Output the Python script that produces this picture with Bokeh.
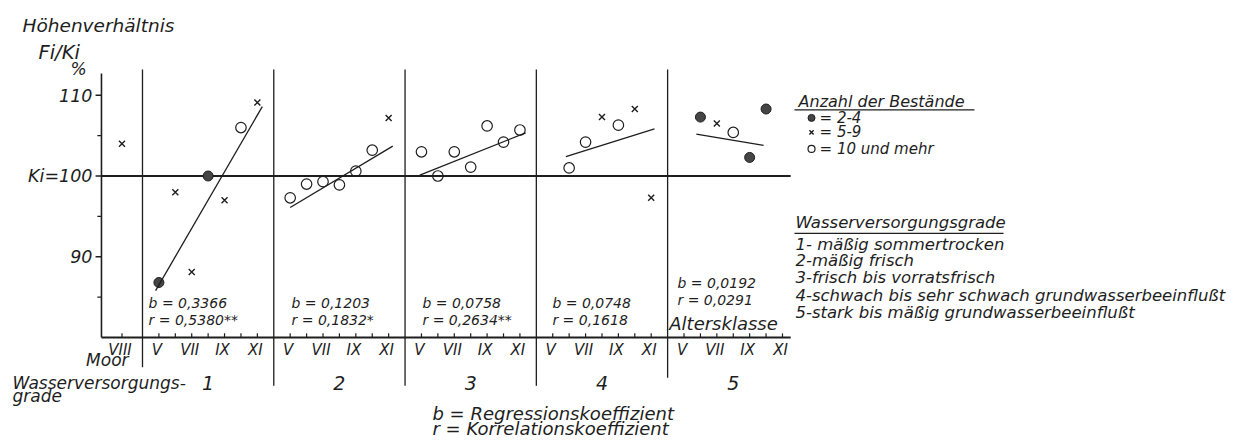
from bokeh.plotting import figure
from bokeh.models import Range1d
from bokeh.embed import file_html
from bokeh.resources import INLINE
from bokeh.core.properties import value

# ---------------- data ----------------
roman = {5: "V", 6: "VI", 7: "VII", 8: "VIII", 9: "IX", 10: "X", 11: "XI"}
age_classes = [5, 6, 7, 8, 9, 10, 11]
labelled_ages = [5, 7, 9, 11]
grades = [1, 2, 3, 4, 5]

moor_age = [8]
moor_val = [104.0]
moor_kind = ["x"]

g1_age = [5, 6, 7, 8, 9, 10, 11]
g1_val = [86.8, 98.0, 88.1, 100.0, 97.0, 106.0, 109.1]
g1_kind = ["dot", "x", "x", "dot", "x", "o", "x"]

g2_age = [5, 6, 7, 8, 9, 10, 11]
g2_val = [97.3, 99.0, 99.3, 98.9, 100.6, 103.2, 107.2]
g2_kind = ["o", "o", "o", "o", "o", "o", "x"]

g3_age = [5, 6, 7, 8, 9, 10, 11]
g3_val = [103.0, 100.0, 103.0, 101.1, 106.2, 104.2, 105.7]
g3_kind = ["o", "o", "o", "o", "o", "o", "o"]

g4_age = [6, 7, 8, 9, 10, 11]
g4_val = [101.0, 104.2, 107.3, 106.3, 108.3, 97.3]
g4_kind = ["o", "o", "x", "o", "x", "x"]

g5_age = [6, 7, 8, 9, 10]
g5_val = [107.3, 106.5, 105.4, 102.3, 108.3]
g5_kind = ["dot", "x", "o", "dot", "dot"]

# regression lines (start/end age class and value)
reg_age0 = [4.8, 5.0, 4.9, 5.8, 5.75]
reg_val0 = [85.8, 96.1, 100.1, 102.4, 105.2]
reg_age1 = [11.3, 11.25, 11.35, 11.2, 9.85]
reg_val1 = [108.6, 103.7, 105.35, 105.85, 103.8]

stat_b = ["0,3366", "0,1203", "0,0758", "0,0748", "0,0192"]
stat_r = ["0,5380", "0,1832", "0,2634", "0,1618", "0,0291"]
stat_sig = ["**", "*", "**", "", ""]

y_major = [90, 100, 110]
y_major_labels = ["90", "Ki=100", "110"]
y_minor = [85, 95, 105]

legend_counts = ["= 2-4", "= 5-9", "= 10 und mehr"]
legend_kinds = ["dot", "x", "o"]
grade_desc = ["1- mäßig sommertrocken", "2-mäßig frisch", "3-frisch bis vorratsfrisch",
              "4-schwach bis sehr schwach grundwasserbeeinflußt",
              "5-stark bis mäßig grundwasserbeeinflußt"]

# ---------------- layout helpers ----------------
PANEL_W = 8
MOOR_X = -1.25
Y_AX = -2.5
X_END = 39.5
Y_BASE = 80
Y_TOP = 112.7


def ux(grade, age):
    return PANEL_W * (grade - 1) + (age - 4)


INK = "#1e1e1e"
FONT = value("DejaVu Sans")

p = figure(width=1256, height=442, x_range=Range1d(-8.653, 67.886),
           y_range=Range1d(66.976, 121.747), min_border=0,
           output_backend="svg", toolbar_location=None,
           x_axis_type=None, y_axis_type=None)
p.outline_line_color = None
p.grid.grid_line_color = None
p.background_fill_color = "white"


def T(xs, ys, texts, size, align="left", baseline="middle", **kw):
    p.text(x=xs, y=ys, text=texts, text_font=FONT, text_font_style="italic",
           text_font_size=size, text_align=align, text_baseline=baseline,
           text_color=INK, **kw)


# axes / frame lines
p.segment(x0=[Y_AX], y0=[Y_BASE], x1=[Y_AX], y1=[Y_TOP], line_color=INK, line_width=1.6)
p.segment(x0=[Y_AX], y0=[Y_BASE], x1=[X_END], y1=[Y_BASE], line_color=INK, line_width=2.0)
p.segment(x0=[Y_AX], y0=[100], x1=[X_END], y1=[100], line_color=INK, line_width=2.0)

# y ticks
p.segment(x0=[Y_AX - 0.36] * 3, y0=y_major, x1=[Y_AX] * 3, y1=y_major, line_color=INK, line_width=1.5)
p.segment(x0=[Y_AX - 0.25] * 3, y0=y_minor, x1=[Y_AX] * 3, y1=y_minor, line_color=INK, line_width=1.3)
T([Y_AX - 0.55] * 3, y_major, y_major_labels, "17.5px", align="right")

# dividers
div_x = [0] + [PANEL_W * g for g in grades[:-1]]
div_bottom = [76.3, 74.0, 74.0, 74.0, 75.0]
p.segment(x0=div_x, y0=[113.2] * 5, x1=div_x, y1=div_bottom, line_color=INK, line_width=1.3)

# x ticks and roman labels
tick_x = [MOOR_X] + [ux(g, a) for g in grades for a in age_classes]
p.segment(x0=tick_x, y0=[Y_BASE] * len(tick_x), x1=tick_x, y1=[Y_BASE + 0.5] * len(tick_x),
          line_color=INK, line_width=1.2)
lab_x = [MOOR_X] + [ux(g, a) for g in grades for a in labelled_ages]
lab_t = [roman[moor_age[0]]] + [roman[a] for g in grades for a in labelled_ages]
T(lab_x, [78.4] * len(lab_x), lab_t, "15px", align="center", x_offset=-2)

# points
series = [(moor_age, moor_val, moor_kind, 0), (g1_age, g1_val, g1_kind, 1),
          (g2_age, g2_val, g2_kind, 2), (g3_age, g3_val, g3_kind, 3),
          (g4_age, g4_val, g4_kind, 4), (g5_age, g5_val, g5_kind, 5)]


def draw_points(xs, ys, kinds, small=False):
    for kind in ("o", "x", "dot"):
        px = [x for x, k in zip(xs, kinds) if k == kind]
        py = [y for y, k in zip(ys, kinds) if k == kind]
        if not px:
            continue
        if kind == "o":
            p.scatter(px, py, marker="circle", size=7 if small else 10.5, fill_color=None,
                      line_color=INK, line_width=1.2)
        elif kind == "x":
            p.scatter(px, py, marker="x", size=6 if small else 8.5, line_color=INK, line_width=1.4)
        else:
            p.scatter(px, py, marker="circle", size=7 if small else 10, fill_color="#454545",
                      line_color=INK, line_width=1.0)


for ages, vals, kinds, g in series:
    xs = [MOOR_X if g == 0 else ux(g, a) for a in ages]
    draw_points(xs, vals, kinds)

# regression lines
p.segment(x0=[ux(g, a) for g, a in zip(grades, reg_age0)], y0=reg_val0,
          x1=[ux(g, a) for g, a in zip(grades, reg_age1)], y1=reg_val1,
          line_color=INK, line_width=1.3)

# statistics text
st_x = [0.37, 9.08, 17.06, 24.98, 32.6]
b_y = [84.3, 84.3, 84.3, 84.3, 86.8]
r_y = [82.2, 82.2, 82.2, 82.2, 84.6]
T(st_x, b_y, ["b = " + b for b in stat_b], "14px")
T(st_x, r_y, ["r = " + r + s for r, s in zip(stat_r, stat_sig)], "14px")
T([32.1], [81.7], ["Altersklasse"], "18px")

# top-left titles
T([-7.31], [118.65], ["Höhenverhältnis"], "18.5px")
T([-6.34], [115.3], ["Fi/Ki"], "19.5px")
T([-4.39], [113.2], ["%"], "17px")

# bottom labels
T([-0.85], [77.2], ["Moor"], "17px", align="right")
T([-7.92, -7.92], [74.41, 72.7], ["Wasserversorgungs-", "grade"], "17px")
T([PANEL_W * (g - 1) + 4 for g in grades], [74.3] * 5, [str(g) for g in grades], "19px",
  align="center")
T([17.67, 17.67], [70.57, 68.7], ["b = Regressionskoeffizient", "r = Korrelationskoeffizient"],
  "18px")

# legend: Anzahl der Bestände
T([39.98], [109.2], ["Anzahl der Bestände"], "16px")
p.segment(x0=[39.73], y0=[108.2], x1=[50.7], y1=[108.2], line_color=INK, line_width=1.2)
leg_y = [107.2, 105.4, 103.35]
draw_points([40.77] * 3, leg_y, legend_kinds, small=True)
T([41.26] * 3, leg_y, legend_counts, "15px")

# legend: Wasserversorgungsgrade
T([39.79], [94.2], ["Wasserversorgungsgrade"], "16.5px")
p.segment(x0=[39.73], y0=[92.9], x1=[52.47], y1=[92.9], line_color=INK, line_width=1.2)
T([39.79] * 5, [91.55, 89.5, 87.43, 85.25, 83.12], grade_desc, "16.5px")

open("out.html", "w").write(file_html(p, INLINE))
